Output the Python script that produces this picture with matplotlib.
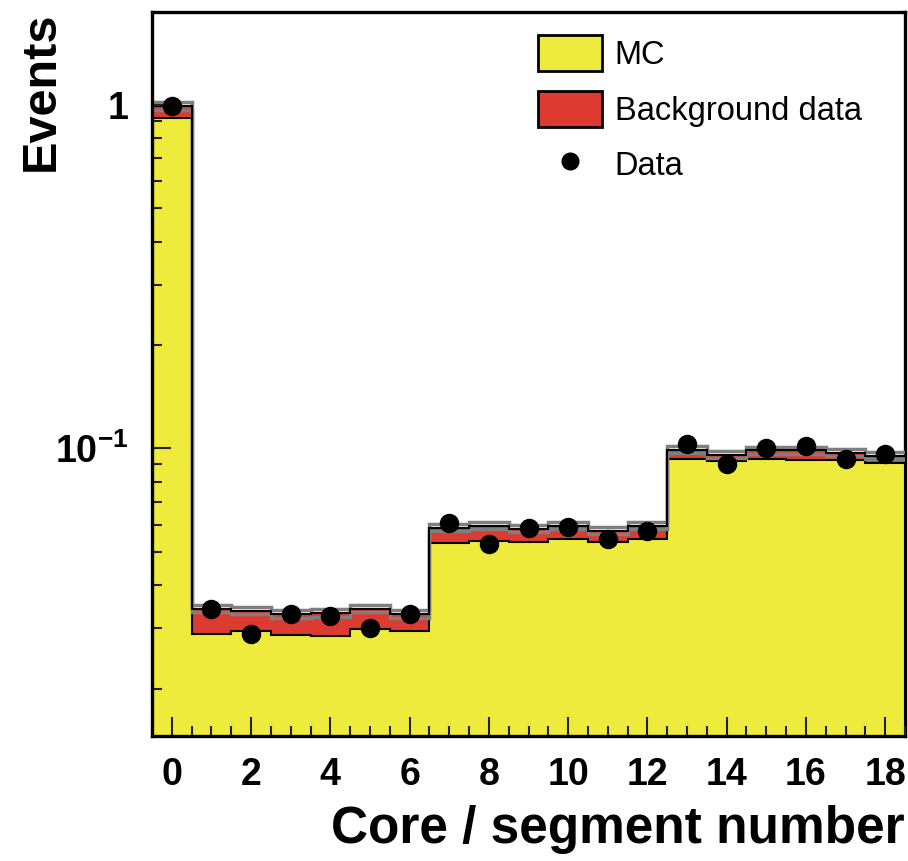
import numpy as np
import matplotlib
matplotlib.use("Agg")
from matplotlib import pyplot
from matplotlib.ticker import FixedLocator, MultipleLocator, LogLocator, FuncFormatter, NullFormatter
from matplotlib.patches import Patch
from matplotlib.lines import Line2D

pyplot.rcParams['font.family'] = ['Liberation Sans', 'DejaVu Sans']
pyplot.rcParams['mathtext.fontset'] = 'custom'
pyplot.rcParams['mathtext.rm'] = 'Liberation Sans:bold'
pyplot.rcParams['mathtext.bf'] = 'Liberation Sans:bold'

# ビン番号 (0 = core, 1-18 = segment)
segments = np.arange(0, 19)
# MC分布 (規格化済み)
mc = [0.916, 0.0289, 0.0295, 0.0287, 0.0285, 0.0299, 0.0295,
      0.0532, 0.0539, 0.0536, 0.0546, 0.0536, 0.0546,
      0.0929, 0.0917, 0.0929, 0.0923, 0.0923, 0.0910]
# MC + バックグラウンド
total = [0.993, 0.0342, 0.0337, 0.0330, 0.0332, 0.0342, 0.0330,
         0.0588, 0.0596, 0.0584, 0.0596, 0.0577, 0.0596,
         0.0993, 0.0960, 0.0987, 0.0987, 0.0973, 0.0954]
# 測定データ
data = [0.995, 0.0342, 0.0289, 0.0330, 0.0326, 0.0301, 0.0330,
        0.0608, 0.0527, 0.0588, 0.0592, 0.0546, 0.0577,
        0.1034, 0.0904, 0.1000, 0.1020, 0.0929, 0.0967]
# 誤差帯の相対幅
band = 0.025

yellow = '#EFEB3D'
red = '#DD3A32'
grey = '#7F7F7F'

edges = np.append(segments - 0.5, segments[-1] + 0.5)
mc = np.array(mc)
total = np.array(total)

fig = pyplot.figure(figsize=(9.08, 8.61), dpi=100)
ax = fig.add_axes([0.1674, 0.1452, 0.8293, 0.8409])
ax.set_yscale('log')
ax.set_xlim(edges[0], edges[-1])
ax.set_ylim(0.01455, 1.867)

# ヒストグラム (黄: MC, 赤: バックグラウンド)
ax.stairs(mc, edges, baseline=1e-4, fill=True, color=yellow, zorder=1)
ax.stairs(total, edges, baseline=mc, fill=True, color=red, zorder=1.1)
ax.stairs(mc, edges, color='black', lw=1.5, zorder=1.2)
ax.stairs(total * (1 + band), edges, baseline=None, color=grey, lw=2.5, zorder=1.3)
ax.stairs(total * (1 - band), edges, baseline=None, color=grey, lw=2.5, zorder=1.3)
ax.stairs(total, edges, baseline=None, color='black', lw=1.5, zorder=1.4)
ax.plot(segments, data, 'o', color='black', markersize=13, zorder=3)

# 軸の設定
for side in ['left', 'top', 'bottom', 'right']:
    ax.spines[side].set_linewidth(2.4)
ax.spines['right'].set_zorder(0.5)

ax.xaxis.set_major_locator(MultipleLocator(2))
ax.xaxis.set_minor_locator(MultipleLocator(0.5))
ax.yaxis.set_major_locator(FixedLocator([0.1, 1]))
ax.yaxis.set_minor_locator(LogLocator(base=10, subs=np.arange(2, 10)))
ax.yaxis.set_major_formatter(FuncFormatter(lambda v, p: '1' if v == 1 else r'$10^{-1}$'))
ax.yaxis.set_minor_formatter(NullFormatter())

ax.tick_params(which='both', direction='in', top=False, right=False, color='#222222', width=1.5)
ax.tick_params(which='major', length=14)
ax.tick_params(which='minor', length=7)
ax.tick_params(axis='x', which='major', pad=15, labelsize=27)
ax.tick_params(axis='y', which='major', pad=17, labelsize=27)
for lab in ax.get_xticklabels() + ax.get_yticklabels():
    lab.set_fontweight('bold')

ax.set_xlabel('Core / segment number', loc='right', fontsize=37, fontweight='bold', labelpad=9)
ax.set_ylabel('Events', loc='top', fontsize=35, fontweight='bold', labelpad=-6)

# 凡例
handles = [Patch(facecolor=yellow, edgecolor='black', linewidth=2),
           Patch(facecolor=red, edgecolor='black', linewidth=2),
           Line2D([], [], marker='o', color='black', linestyle='none', markersize=12)]
ax.legend(handles, ['MC', 'Background data', 'Data'], loc='upper left',
          bbox_to_anchor=(0.5126, 0.968), frameon=False, fontsize=23.5,
          borderpad=0, borderaxespad=0, handlelength=1.95, handleheight=1.32,
          handletextpad=0.4, labelspacing=0.6)

pyplot.savefig('out.png', dpi=100)
pyplot.close(fig)
